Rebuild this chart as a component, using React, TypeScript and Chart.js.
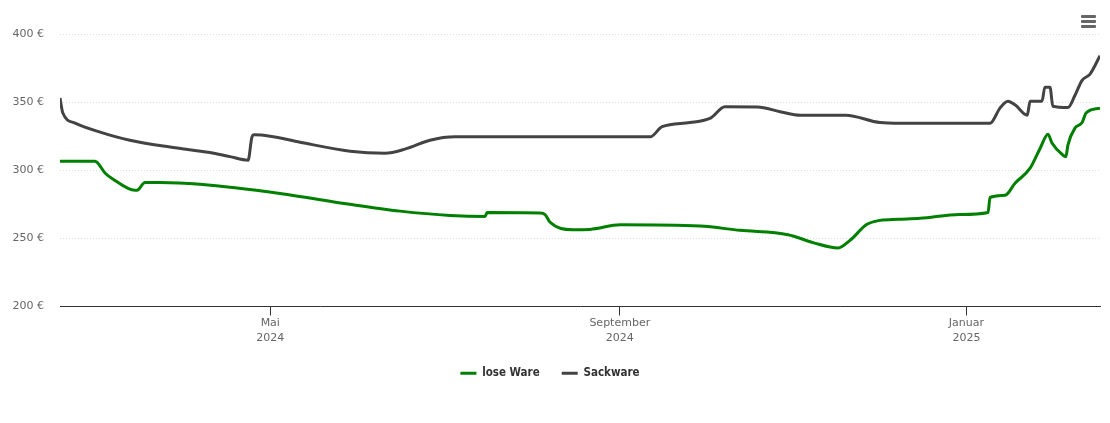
import React, { useEffect, useRef } from "react";
import { Chart, registerables } from "chart.js";

Chart.register(...registerables);

// x = days since 17 Feb 2024
const tickDays = [74, 197, 319];
const tickLabels = [["Mai", "2024"], ["September", "2024"], ["Januar", "2025"]];

const loseDays = [0, 12.3, 16, 18.3, 26.4, 27.1, 29.9, 35.2, 49.3, 77.4, 102, 119.7, 137.3, 149.6, 150.3, 168.9, 170.7, 172.4, 180.2, 186.5, 197.1, 225.2, 239.3, 256.2, 265, 273.8, 278, 284, 288.6, 295, 302.7, 316.7, 326.6, 327.3, 332.6, 336.1, 341.4, 344.9, 347.7, 349.1, 353, 354, 354.7, 357.2, 359.7, 361.1, 366];
const loseValues = [306.6, 306.6, 297.6, 294, 285.3, 285.3, 291, 291, 289.7, 283, 275, 270, 266.8, 266, 268.9, 268.6, 267.5, 262, 256.4, 256.6, 260, 259, 255.9, 252.7, 246.9, 242.9, 248.5, 260.3, 263.2, 264, 264.7, 267.5, 269, 280, 281.6, 290.5, 301.5, 316, 326.5, 320, 311, 310, 318.5, 331, 335, 342, 345.6];

const sackDays = [0, 1, 5.3, 14.1, 24.6, 38.7, 52.8, 59.8, 66.2, 67.5, 68.3, 73.9, 84.5, 102.1, 114.4, 121.4, 130.2, 139, 207.7, 211.9, 221.7, 229.1, 234, 245.5, 253.4, 260.6, 276.5, 288.6, 295.6, 327.3, 330.8, 333.6, 336.1, 340.4, 341.4, 345.6, 346.6, 348.4, 349.4, 354.7, 357.2, 359.7, 362.5, 366];
const sackValues = [353, 342, 334.6, 328, 322, 317, 313, 310, 307.4, 324, 326, 325, 320.6, 314, 312.5, 315.5, 322, 324.5, 324.5, 332, 335, 338.5, 346.6, 346.5, 343, 340.4, 340.4, 335, 334.5, 334.5, 345.6, 350.7, 348, 340.4, 350.7, 350.7, 361, 361, 347, 346, 355, 366, 370.6, 384];

const FONT = "'DejaVu Sans', sans-serif";
const LEGEND_FONT = "'DejaVu Sans Condensed', 'DejaVu Sans', sans-serif";

export default function App() {
  const ref = useRef<HTMLCanvasElement>(null);
  useEffect(() => {
    document.body.style.margin = "0";
    const toPts = (xs: number[], ys: number[]) => xs.map((x, i) => ({ x, y: ys[i] }));
    const chart = new Chart(ref.current!, {
      type: "line",
      data: {
        datasets: [
          {
            label: "lose Ware",
            data: toPts(loseDays, loseValues),
            borderColor: "#008000",
            backgroundColor: "#008000",
            borderWidth: 3,
            pointRadius: 0,
            cubicInterpolationMode: "monotone",
          },
          {
            label: "Sackware",
            data: toPts(sackDays, sackValues),
            borderColor: "#434343",
            backgroundColor: "#434343",
            borderWidth: 3,
            pointRadius: 0,
            cubicInterpolationMode: "monotone",
          },
        ],
      },
      options: {
        animation: false,
        responsive: false,
        maintainAspectRatio: false,
        layout: { padding: { top: 34, right: 10, left: 0, bottom: 34 } },
        plugins: {
          tooltip: { enabled: false },
          legend: {
            position: "bottom",
            labels: {
              usePointStyle: true,
              pointStyle: "line",
              pointStyleWidth: 16,
              boxHeight: 11,
              padding: 22,
              color: "#333333",
              font: { family: LEGEND_FONT, size: 11.5, weight: "bold" },
            },
          },
        },
        scales: {
          x: {
            type: "linear",
            min: 0,
            max: 366,
            afterBuildTicks: (s: any) => {
              s.ticks = tickDays.map((v) => ({ value: v }));
            },
            afterFit: (s: any) => {
              s.height = 39;
            },
            grid: { drawOnChartArea: false, drawTicks: true, tickLength: 9, color: "#333333" },
            border: { display: true, color: "#333333", width: 1 },
            ticks: {
              color: "#666666",
              font: { family: FONT, size: 11, lineHeight: 1.35 },
              padding: 0,
              maxRotation: 0,
              autoSkip: false,
              callback: (v: any) => {
                const i = tickDays.indexOf(Number(v));
                return i >= 0 ? tickLabels[i] : "";
              },
            },
          },
          y: {
            min: 200,
            max: 400,
            afterFit: (s: any) => {
              s.width = 60;
            },
            grid: { color: "#e0e0e0", drawTicks: false, lineWidth: 1 },
            border: { display: false, dash: [1, 2] },
            ticks: {
              stepSize: 50,
              color: "#666666",
              font: { family: FONT, size: 11 },
              padding: 16,
              callback: (v: any) => v + " €",
            },
          },
        },
      },
    });
    return () => chart.destroy();
  }, []);
  const bar = { width: 15, height: 2.5, background: "#666", borderRadius: 1, marginBottom: 2.5 } as React.CSSProperties;
  return (
    <div style={{ position: "relative", width: 1110, height: 423 }}>
      <canvas ref={ref} width={1110} height={423} style={{ width: 1110, height: 423 }} />
      <div style={{ position: "absolute", left: 1081, top: 15 }}>
        <div style={bar} />
        <div style={bar} />
        <div style={bar} />
      </div>
    </div>
  );
}
